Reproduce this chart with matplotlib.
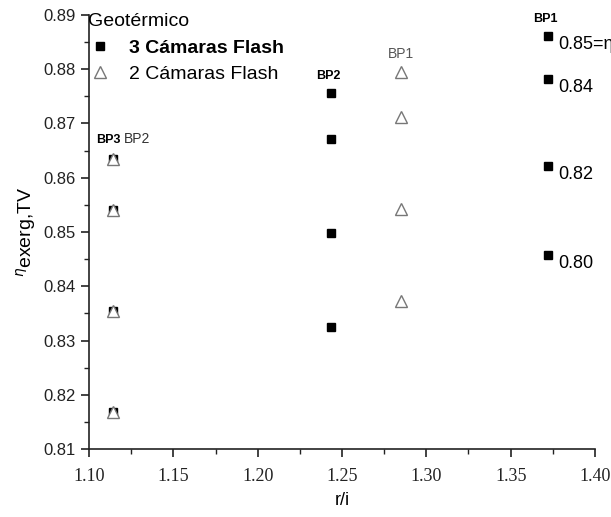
import numpy as np
import matplotlib
matplotlib.use("Agg")
import matplotlib.pyplot as plt
from matplotlib.ticker import MultipleLocator, AutoMinorLocator

plt.rcParams['font.family'] = ['Liberation Sans', 'DejaVu Sans']

# 3 Cámaras Flash (cuadrados negros)
x3 = [1.1142, 1.1142, 1.1142, 1.1142,
      1.2435, 1.2435, 1.2435, 1.2435,
      1.3722, 1.3722, 1.3722, 1.3722]
y3 = [0.8635, 0.8541, 0.8354, 0.8168,
      0.8756, 0.8671, 0.8498, 0.8325,
      0.8861, 0.8782, 0.8622, 0.8458]

# 2 Cámaras Flash (triángulos)
x2 = [1.1142, 1.1142, 1.1142, 1.1142,
      1.285, 1.285, 1.285, 1.285]
y2 = [0.8635, 0.8541, 0.8354, 0.8168,
      0.8795, 0.8712, 0.8542, 0.8373]

eta_labels = ['0.85=η', '0.84', '0.82', '0.80']

fig = plt.figure(figsize=(6.11, 5.17), dpi=100)
ax = fig.add_axes([0.1457, 0.1315, 0.8281, 0.8395])

ax.plot(x3, y3, 's', color='black', ms=6, ls='none', label='3 Cámaras Flash', zorder=3)
ax.plot(x2, y2, '^', mfc='white', mec='#777777', mew=1.0, ms=8, ls='none',
        label='2 Cámaras Flash', zorder=4)

# etiquetas de las curvas
for yy, lab in zip(y3[8:], eta_labels):
    ax.annotate(lab, (x3[8], yy), xytext=(7, -6), textcoords='offset points',
                fontsize=13, va='center', ha='left', annotation_clip=False)

ax.annotate('BP1', (x3[8], y3[8]), xytext=(-2, 8), textcoords='offset points',
            fontsize=9, fontweight='bold', ha='center', va='bottom')
ax.annotate('BP2', (x3[4], y3[4]), xytext=(-2, 8), textcoords='offset points',
            fontsize=9, fontweight='bold', ha='center', va='bottom')
ax.annotate('BP1', (x2[4], y2[4]), xytext=(0, 8), textcoords='offset points',
            fontsize=10, color='#555555', ha='center', va='bottom')
ax.annotate('BP3', (x3[0], y3[0]), xytext=(-3, 9), textcoords='offset points',
            fontsize=9, fontweight='bold', ha='center', va='bottom')
ax.annotate('BP2', (x2[0], y2[0]), xytext=(17, 9), textcoords='offset points',
            fontsize=10, color='#333333', ha='center', va='bottom')

ax.set_xlim(1.10, 1.40)
ax.set_ylim(0.81, 0.89)
ax.xaxis.set_major_locator(MultipleLocator(0.05))
ax.xaxis.set_minor_locator(AutoMinorLocator(2))
ax.yaxis.set_major_locator(MultipleLocator(0.01))
ax.yaxis.set_minor_locator(AutoMinorLocator(2))
ax.xaxis.set_major_formatter(matplotlib.ticker.FormatStrFormatter('%.2f'))
ax.yaxis.set_major_formatter(matplotlib.ticker.FormatStrFormatter('%.2f'))

for s in ['top', 'right']:
    ax.spines[s].set_visible(False)
for s in ['left', 'bottom']:
    ax.spines[s].set_linewidth(1.2)
    ax.spines[s].set_color('#222222')

ax.tick_params(which='major', direction='out', length=6, width=1.2, labelsize=12, colors='#222222')
ax.tick_params(which='minor', direction='out', length=3.5, width=1.0, colors='#222222')
ax.tick_params(axis='x', which='major', pad=8)
for t in ax.get_xticklabels():
    t.set_family('Liberation Serif')
    t.set_fontsize(13)

ax.set_xlabel('r/i', fontsize=13, labelpad=5)
ax.set_ylabel(r'$^{\eta}$exerg,TV', fontsize=14, labelpad=4)

leg = ax.legend(loc='upper left', bbox_to_anchor=(-0.028, 1.035), frameon=False,
                title='Geotérmico', fontsize=14, title_fontsize=14,
                handletextpad=0.9, borderaxespad=0.3, labelspacing=0.45,
                alignment='left', handlelength=1.2)
leg.get_texts()[0].set_fontweight('bold')

fig.savefig('out.png', dpi=100)
